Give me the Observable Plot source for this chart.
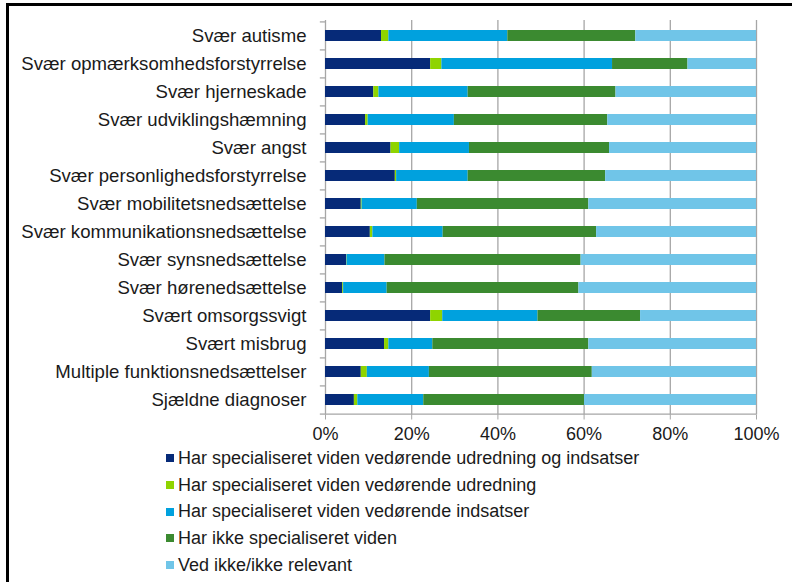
<!DOCTYPE html>
<html><head><meta charset="utf-8">
<script src="https://cdn.jsdelivr.net/npm/d3@7"></script>
<script src="https://cdn.jsdelivr.net/npm/@observablehq/plot@0.6"></script>
<style>
body{margin:0;background:#fff;font-family:"Liberation Sans",Arial,sans-serif;}
#wrap{position:relative;width:792px;height:582px;overflow:hidden;background:#fff;}
#border{position:absolute;left:6px;top:3px;right:-10px;bottom:-10px;border-top:3px solid #000;border-left:3px solid #000;}
#chart{position:absolute;left:0;top:0;}
#legend{position:absolute;left:166px;top:445px;font-size:18px;color:#1a1a1a;}
.item{height:26.7px;display:flex;align-items:center;white-space:nowrap;}
.sw{width:8px;height:8px;margin-right:4px;flex:none;}
</style>
</head><body>
<div id="wrap"><div id="border"></div><div id="chart"></div><div id="legend"></div></div>
<script>
const categories = [
  "Svær autisme",
  "Svær opmærksomhedsforstyrrelse",
  "Svær hjerneskade",
  "Svær udviklingshæmning",
  "Svær angst",
  "Svær personlighedsforstyrrelse",
  "Svær mobilitetsnedsættelse",
  "Svær kommunikationsnedsættelse",
  "Svær synsnedsættelse",
  "Svær hørenedsættelse",
  "Svært omsorgssvigt",
  "Svært misbrug",
  "Multiple funktionsnedsættelser",
  "Sjældne diagnoser"
];
const series = [
  "Har specialiseret viden vedørende udredning og indsatser",
  "Har specialiseret viden vedørende udredning",
  "Har specialiseret viden vedørende indsatser",
  "Har ikke specialiseret viden",
  "Ved ikke/ikke relevant"
];
const udredningOgIndsatser = [13.0, 24.4, 11.2, 9.3, 15.2, 16.2, 8.3, 10.4, 4.9, 4.0, 24.4, 13.7, 8.3, 6.7];
const udredning            = [1.7, 2.6, 1.2, 0.6, 2.0, 0.3, 0.2, 0.6, 0.1, 0.2, 2.8, 1.0, 1.4, 0.8];
const indsatser            = [27.6, 39.6, 20.7, 20.0, 16.2, 16.6, 12.8, 16.3, 8.8, 10.1, 22.1, 10.2, 14.4, 15.3];
const ikkeViden            = [29.7, 17.5, 34.3, 35.6, 32.5, 31.9, 39.8, 35.6, 45.5, 44.5, 23.8, 36.2, 37.8, 37.3];
const vedIkke              = [28.0, 15.9, 32.6, 34.5, 34.1, 35.0, 38.9, 37.1, 40.7, 41.2, 26.9, 38.9, 38.1, 39.9];
const xTicks = [0, 20, 40, 60, 80, 100];

const colors = ["#062a78", "#8fd400", "#00a1de", "#3b8a30", "#70c5e8"];
const valueSets = [udredningOgIndsatser, udredning, indsatser, ikkeViden, vedIkke];
const rows = categories.flatMap((c, i) => series.map((s, j) => ({category: c, series: s, value: valueSets[j][i]})));

const W = 792, H = 445, mT = 20, mB = 30.5;
const band = (H - mT - mB) / categories.length;
const grey = "#a6a6a6";

const chart = Plot.plot({
  width: W, height: H,
  marginLeft: 325, marginRight: 36, marginTop: mT, marginBottom: mB,
  style: {fontFamily: "'Liberation Sans', Arial, sans-serif", fontSize: "18px", color: "#1a1a1a", background: "transparent"},
  x: {domain: [0, 100]},
  y: {domain: categories, paddingInner: 0.61, paddingOuter: 0.305},
  color: {domain: series, range: colors},
  marks: [
    Plot.gridX(xTicks, {stroke: grey, strokeOpacity: 1, strokeWidth: 1.3}),
    Plot.barX(rows, Plot.stackX({x: "value", y: "category", fill: "series", order: series})),
    Plot.ruleY([0], {x1: 0, x2: 100, y: () => categories[categories.length - 1], dy: band / 2, stroke: grey, strokeWidth: 1.3}),
    Plot.ruleY(categories, {y: d => d, x1: -1.2, x2: 0, dy: -band / 2, stroke: grey, strokeWidth: 1.3}),
    Plot.ruleY([categories[categories.length - 1]], {y: d => d, x1: -1.2, x2: 0, dy: band / 2, stroke: grey, strokeWidth: 1.3}),
    Plot.axisX(xTicks, {tickSize: 5, tickPadding: 7, stroke: grey, fill: "#1a1a1a", tickFormat: d => d + "%", label: null}),
    Plot.axisY({tickSize: 0, tickPadding: 19, fill: "#1a1a1a", fontSize: 18.6, label: null})
  ]
});
document.getElementById("chart").appendChild(chart);

const legend = document.getElementById("legend");
series.forEach((s, j) => {
  const item = document.createElement("div");
  item.className = "item";
  const sw = document.createElement("span");
  sw.className = "sw";
  sw.style.background = colors[j];
  const t = document.createElement("span");
  t.textContent = s;
  item.appendChild(sw); item.appendChild(t);
  legend.appendChild(item);
});
</script>
</body></html>
